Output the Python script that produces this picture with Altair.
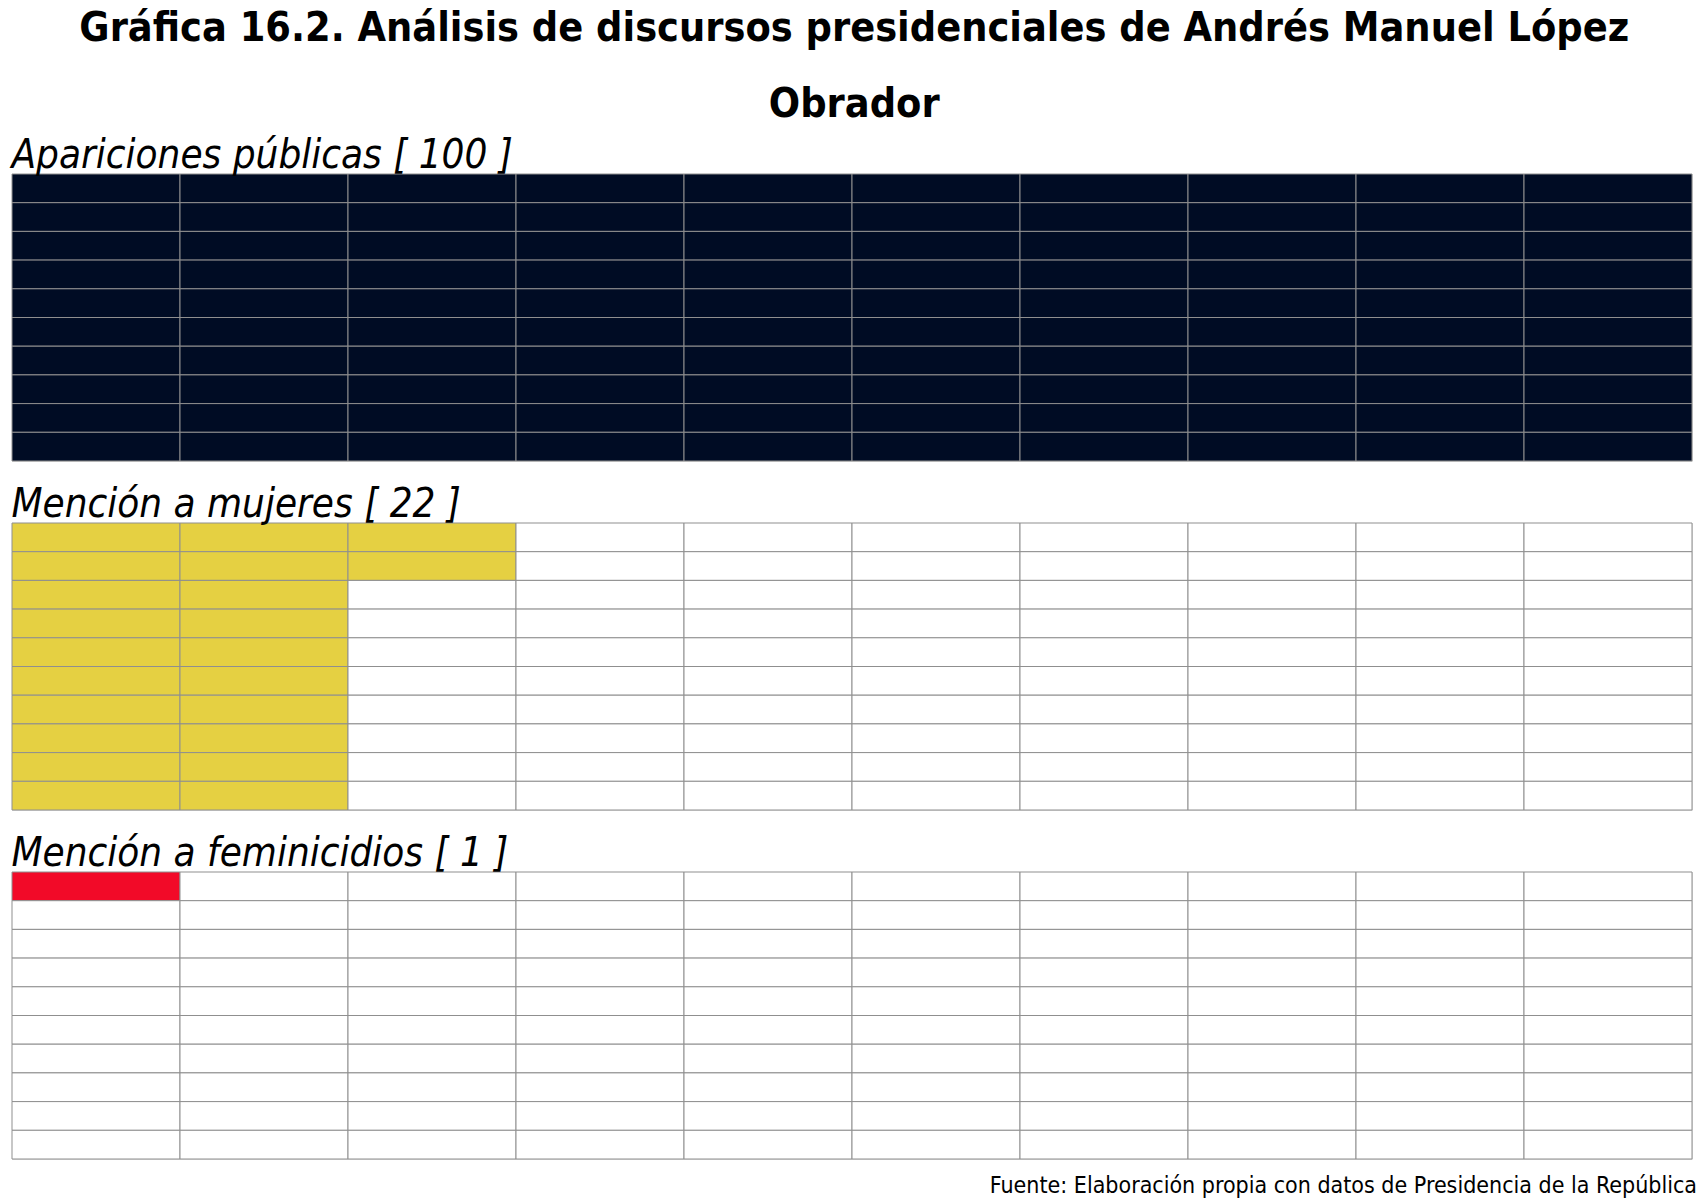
import altair as alt
import pandas as pd

main_title = ["Gráfica 16.2. Análisis de discursos presidenciales de Andrés Manuel López", "Obrador"]
panel_titles = ["Apariciones públicas [ 100 ]", "Mención a mujeres [ 22 ]", "Mención a feminicidios [ 1 ]"]
counts = [100, 22, 1]
fill_colors = ["#000C24", "#E5D042", "#F20A28"]
source_text = "Fuente: Elaboración propia con datos de Presidencia de la República"
n_cols = 10
n_rows = 10

FONT = "DejaVu Sans Condensed, Liberation Sans"
W = 1680
H = 287


def panel(title, count, color, with_source=False):
    rows = []
    for c in range(n_cols):
        for r in range(n_rows):
            rows.append({"col": c, "col2": c + 1, "row": r, "row2": r + 1,
                         "filled": (c * n_rows + r) < count})
    df = pd.DataFrame(rows)
    grid = alt.Chart(df).mark_rect(stroke="#8f8f8f", strokeWidth=1).encode(
        x=alt.X("col:Q", scale=alt.Scale(domain=[0, n_cols], nice=False, zero=False), axis=None),
        x2="col2:Q",
        y=alt.Y("row:Q", scale=alt.Scale(domain=[0, n_rows], nice=False, zero=False, reverse=True), axis=None),
        y2="row2:Q",
        color=alt.condition("datum.filled", alt.value(color), alt.value("#ffffff")),
    )
    layers = [grid]
    if with_source:
        src = alt.Chart(alt.Data(values=[{"t": source_text}])).mark_text(
            align="right", baseline="middle", font=FONT, fontSize=23, color="#000000"
        ).encode(text="t:N", x=alt.value(W + 5), y=alt.value(H + 27))
        layers.append(src)
    return alt.layer(*layers).properties(
        width=W, height=H,
        title=alt.TitleParams(title, anchor="start", font=FONT, fontSize=40, fontStyle="italic",
                              fontWeight="normal", color="#000000", offset=3, dy=5),
    )


panels = [panel(t, n, c, with_source=(i == 2)) for i, (t, n, c) in enumerate(zip(panel_titles, counts, fill_colors))]

chart = alt.vconcat(*panels, spacing=22).properties(
    title=alt.TitleParams(main_title, anchor="middle", font=FONT, fontSize=41, fontWeight="bold",
                          color="#000000", lineHeight=76, offset=9),
    padding={"left": 11, "top": 8, "right": 2, "bottom": 2},
).configure_view(stroke=None).configure(background="#ffffff")

chart.save("out.html", embed_options={"renderer": "svg", "actions": False})
